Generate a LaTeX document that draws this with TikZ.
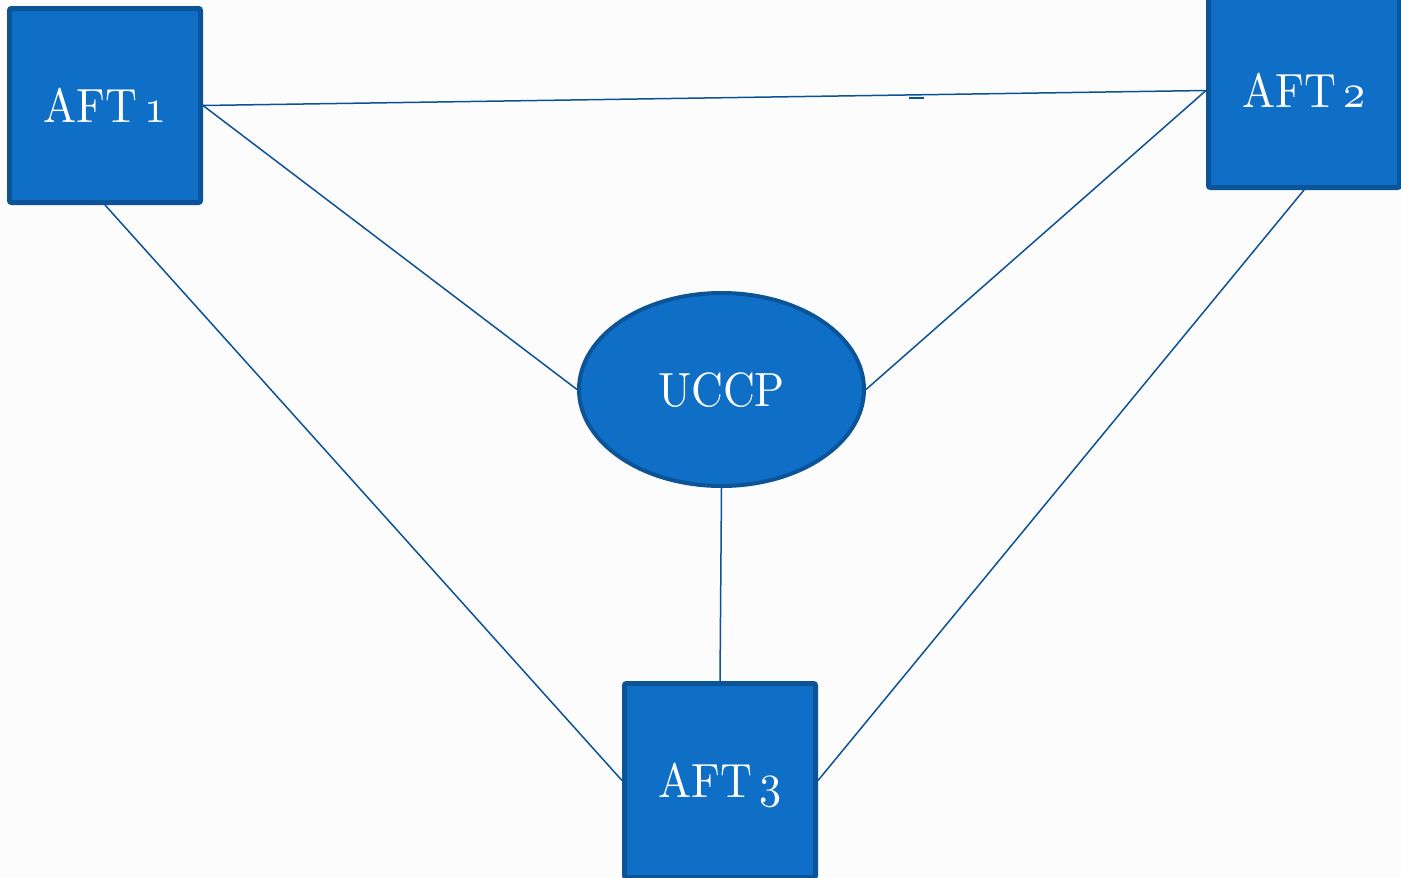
\documentclass[tikz,border=0pt]{standalone}
\usetikzlibrary{shapes.geometric}
\usepackage{graphicx}
\DeclareFontShape{OML}{cmm}{m}{it}{<->cmmi10}{}
\DeclareFontFamily{TU}{lmten}{}
\DeclareFontShape{TU}{lmten}{m}{n}{<-> "[lmroman10-regular]:"}{}
\definecolor{boxfill}{RGB}{15,111,198}
\definecolor{boxline}{RGB}{11,84,152}
\definecolor{conn}{RGB}{12,82,150}
\definecolor{bg}{RGB}{252,252,252}
\newcommand{\lbl}[1]{\scalebox{0.92}[1]{#1}}
\newcommand{\osn}[1]{{\usefont{OML}{cmm}{m}{it}#1}}
\tikzset{
  aftbox/.style={rectangle, draw=boxline, fill=boxfill, line width=5pt,
    minimum width=191pt, minimum height=194pt, inner sep=0pt, rounded corners=2pt,
    text=white, font=\fontsize{48}{50}\usefont{TU}{lmten}{m}{n}, text depth=0pt},
  hub/.style={ellipse, draw=boxline, fill=boxfill, line width=4pt,
    minimum width=285pt, minimum height=193pt, inner sep=0pt,
    text=white, font=\fontsize{48}{50}\usefont{TU}{lmten}{m}{n}, text depth=0pt},
  link/.style={draw=conn, line width=1.5pt}
}
\begin{document}
\begin{tikzpicture}[x=1pt,y=-1pt]
\fill[bg] (0,0) rectangle (1401,878);
\useasboundingbox (0,0) rectangle (1401,878);
\node[aftbox] (a1) at (105,105.5) {\lbl{AFT\hspace{0.15em}\osn{1}}};
\node[aftbox] (a2) at (1304,90.5) {\lbl{AFT\hspace{0.15em}\osn{2}}};
\node[aftbox] (a3) at (720,780.5) {\lbl{AFT\hspace{0.15em}\osn{3}}};
\node[hub] (u) at (721.5,389.5) {\lbl{UCCP}};
\draw[link] (a1.east) -- (a2.west);
\draw[link] (a1.east) -- (u.west);
\draw[link] (a1.south) -- (a3.west);
\draw[link] (a2.west) -- (u.east);
\draw[link] (a2.south) -- (a3.east);
\draw[link] (u.south) -- (a3.north);
\coordinate (d1) at (909,97.5);
\coordinate (d2) at (924,97.5);
\draw[draw=conn, line width=2pt] (d1) -- (d2);
\end{tikzpicture}
\end{document}
